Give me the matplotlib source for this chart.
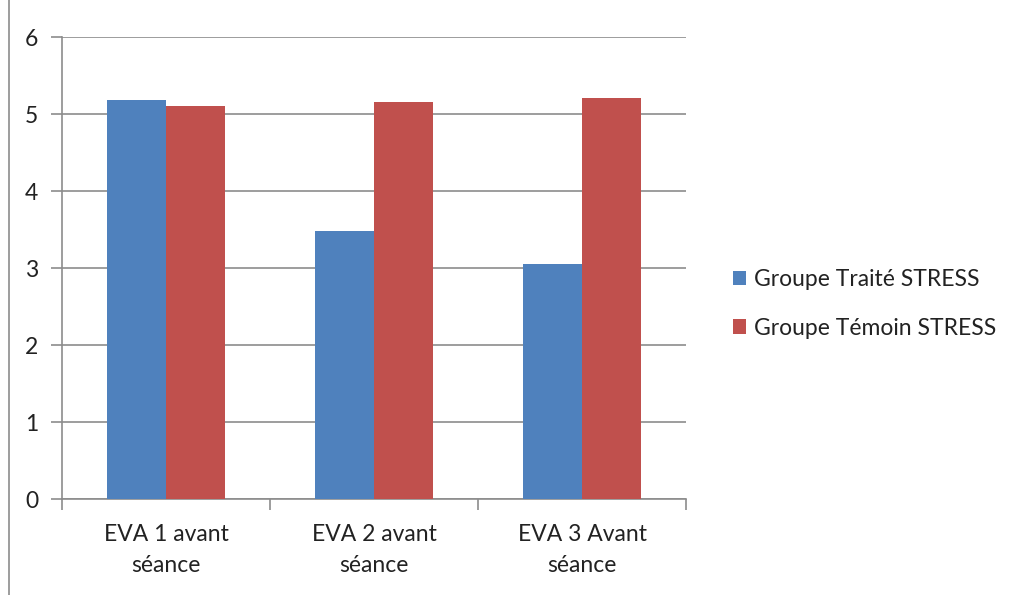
import numpy as np
import matplotlib.pyplot as plt
from matplotlib.lines import Line2D

categories = ['EVA 1 avant\nséance', 'EVA 2 avant\nséance', 'EVA 3 Avant\nséance']
traite = [5.19, 3.49, 3.06]
temoin = [5.11, 5.16, 5.21]
series_names = ['Groupe Traité STRESS', 'Groupe Témoin STRESS']
yticks = [0, 1, 2, 3, 4, 5, 6]

plt.rcParams['font.family'] = ['Lato', 'DejaVu Sans']
fs = 16.5

fig = plt.figure(figsize=(10.16, 5.95), dpi=100)
ax = fig.add_axes([62/1016, 1 - 499.3/595, 624/1016, 462/595])

x = np.arange(len(categories))
w = 1 / 3.5
b1 = ax.bar(x - w/2, traite, w, color='#4F81BD', label=series_names[0], zorder=3)
b2 = ax.bar(x + w/2, temoin, w, color='#C0504D', label=series_names[1], zorder=3)

ax.set_xlim(-0.5, len(categories) - 0.5)
ax.set_ylim(0, 6)
ax.set_yticks(yticks)
ax.yaxis.grid(True, color='#8c8c8c', linewidth=1.2, zorder=0)
for s in ['top', 'right']:
    ax.spines[s].set_visible(False)
for s in ['left', 'bottom']:
    ax.spines[s].set_color('#8c8c8c')
    ax.spines[s].set_linewidth(1.2)

ax.set_xticks(x)
ax.set_xticklabels(categories, fontsize=fs, linespacing=1.6, color='#222222')
ax.tick_params(axis='x', length=0, pad=18)
ax.set_xticks(np.arange(len(categories) + 1) - 0.5, minor=True)
ax.tick_params(axis='x', which='minor', length=8, color='#8c8c8c', width=1.2)
ax.tick_params(axis='y', length=8, color='#8c8c8c', width=1.2, labelsize=fs,
               labelcolor='#222222', pad=9)

leg = ax.legend(handles=[b1, b2], loc='center left', bbox_to_anchor=(712/1016, 1 - 304/595),
                bbox_transform=fig.transFigure, frameon=False, fontsize=fs,
                handlelength=0.6, handleheight=0.6, handletextpad=0.35, labelspacing=1.2)
for t in leg.get_texts():
    t.set_color('#222222')

# chart border on the left
fig.add_artist(Line2D([8.5/1016, 8.5/1016], [0, 1], color='#8c8c8c', linewidth=1.2))

fig.savefig('out.png', dpi=100)
